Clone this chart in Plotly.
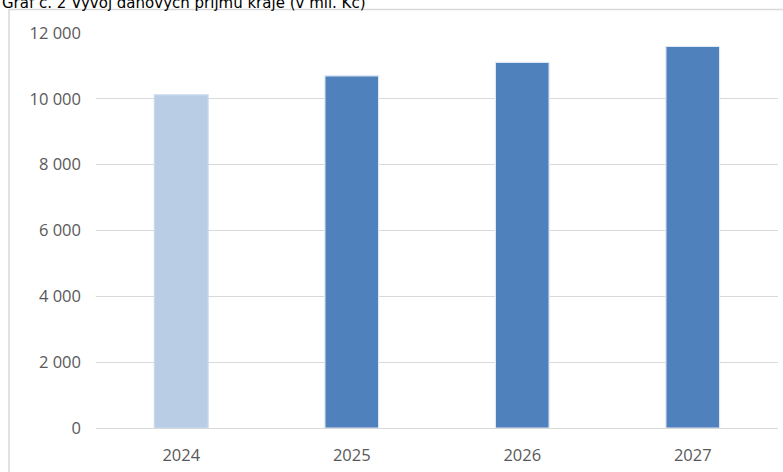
import plotly.graph_objects as go

years = ["2024", "2025", "2026", "2027"]
values = [10120, 10700, 11110, 11590]
colors = ["#b9cde5", "#4f81bd", "#4f81bd", "#4f81bd"]
line_colors = ["#c6d9f0", "#dfe8f3", "#dfe8f3", "#dfe8f3"]
title_text = "Graf č. 2 Vývoj daňových příjmů kraje (v mil. Kč)"
y_ticks = [0, 2000, 4000, 6000, 8000, 10000, 12000]

W, H = 783, 472
L, R, T, B = 96, 5, 33, 44
pw, ph = W - L - R, H - T - B

fig = go.Figure(go.Bar(
    x=years, y=values,
    marker=dict(color=colors, line=dict(color=line_colors, width=1.2)),
    width=0.315,
))

tick_font = dict(family="Open Sans", size=16.5, color="#595959")

fig.update_layout(
    width=W, height=H,
    margin=dict(l=L, r=R, t=T, b=B),
    plot_bgcolor="white", paper_bgcolor="white",
    separators=", ",
    showlegend=False,
    font=dict(family="Open Sans", color="#595959", size=16),
)
fig.update_yaxes(
    range=[0, 12000], tickvals=y_ticks, tickformat=",d",
    showgrid=True, gridcolor="#d9d9d9", gridwidth=1.3,
    zeroline=False, showline=False, ticks="", ticklabelstandoff=14,
    tickfont=tick_font,
)
fig.update_xaxes(
    showline=True, linecolor="#d9d9d9", linewidth=1.3,
    ticks="", ticklabelstandoff=12,
    tickfont=tick_font,
)

# outer chart frame
fig.add_shape(type="rect", xref="paper", yref="paper",
              x0=(9 - L) / pw, x1=(W + 20 - L) / pw,
              y0=-(H + 20 - T - ph) / ph, y1=(T + ph - 9.5) / ph,
              line=dict(color="#d9d9d9", width=1.5), fillcolor="rgba(0,0,0,0)", layer="below")

# partially cut title
fig.add_annotation(text=title_text, xref="paper", yref="paper",
                   x=(0 - L) / pw, y=(T + ph - 14) / ph,
                   xanchor="left", yanchor="bottom", showarrow=False,
                   font=dict(family="DejaVu Sans", size=15, color="#000000"))

fig.write_html("out.html", config={"displayModeBar": False},
               post_script="document.body.style.margin='0';")
